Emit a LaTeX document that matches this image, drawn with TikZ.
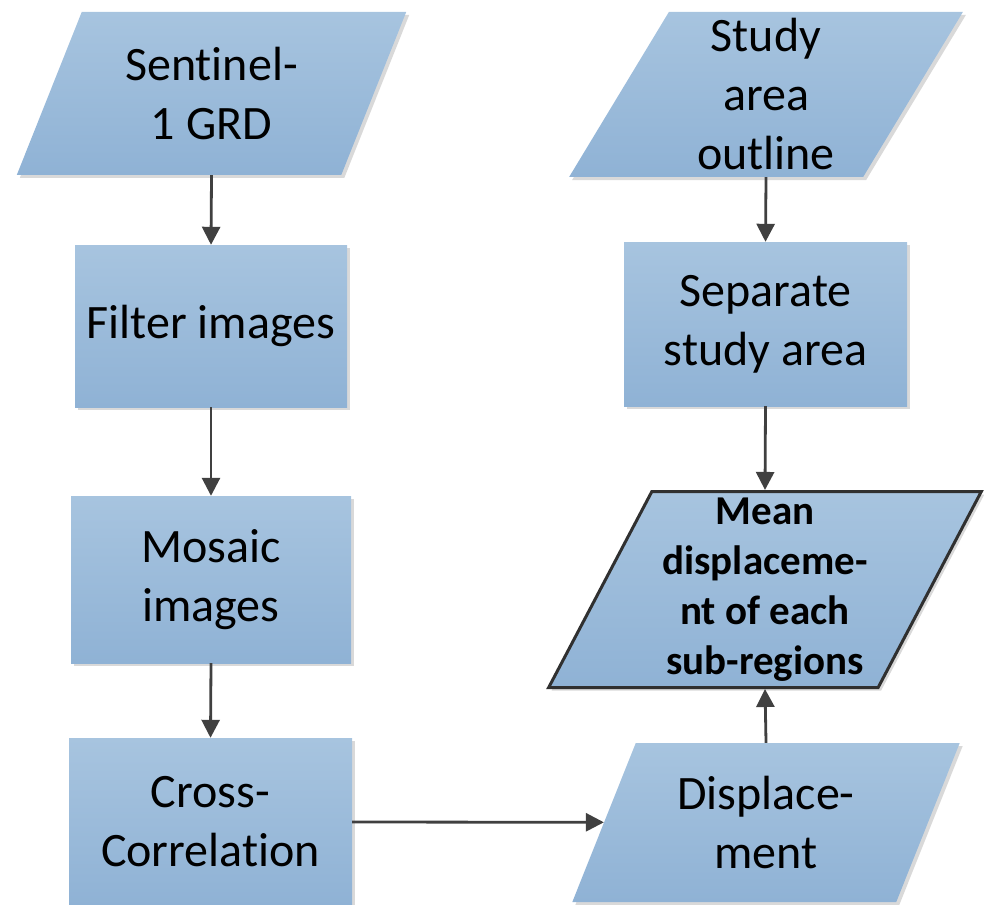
\documentclass[tikz,border=0pt]{standalone}
\usepackage{fontspec}
\setmainfont[Ligatures={NoCommon,NoContextual,NoRequired},Contextuals=NoAlternate]{Carlito}
\usetikzlibrary{shapes.geometric,arrows.meta,shadows}

\definecolor{filltop}{RGB}{167,196,223}
\definecolor{fillbot}{RGB}{143,178,213}
\definecolor{linegray}{RGB}{64,64,64}
\definecolor{edgedark}{RGB}{48,48,48}

\tikzset{
  flowshape/.style={
    top color=filltop, bottom color=fillbot, draw=none,
    drop shadow={shadow xshift=3pt, shadow yshift=-3pt, fill=black, opacity=0.15},
    align=center, inner sep=0pt,
    font=\fontsize{48}{59}\selectfont
  },
  procbox/.style={flowshape, rectangle},
  databox/.style={flowshape, trapezium, trapezium stretches=true,
    trapezium left angle=65, trapezium right angle=115},
  resultbox/.style={databox, trapezium left angle=63, trapezium right angle=117,
    draw=edgedark, line width=3pt,
    font=\fontsize{41}{50}\selectfont\bfseries},
  flow/.style={draw=linegray, line width=2.8pt,
    -{Triangle[length=18pt,width=18pt]}}
}

\begin{document}
\begin{tikzpicture}[x=1pt,y=-1pt]
  \useasboundingbox (0,0) rectangle (984,904);

  % left column: image processing chain
  \node[databox, minimum width=391pt, minimum height=163pt] (sent) at (211.5,93.5) {Sentinel-\\1 GRD};
  \node[procbox, minimum width=272pt, minimum height=162pt] (filt) at (211,326) {Filter images};
  \node[procbox, minimum width=280pt, minimum height=167pt] (mosa) at (211,579.5) {Mosaic\\images};
  \node[procbox, minimum width=283pt, minimum height=168pt] (corr) at (210.5,822) {Cross-\\Correlation};

  % right column: study area and results
  \node[databox, minimum width=395pt, minimum height=165pt] (stud) at (766,94.5) {Study\\area\\outline};
  \node[procbox, minimum width=283pt, minimum height=164pt] (sepa) at (765.5,324) {Separate\\study area};
  \node[resultbox, minimum width=433pt, minimum height=196pt] (mean) at (765,589.5) {Mean\\displaceme-\\nt of each\\sub-regions};
  \node[databox, minimum width=388pt, minimum height=159pt] (disp) at (766,822.5) {Displace-\\ment};

  % connectors
  \draw[flow] (sent.south) -- (filt.north);
  \draw[flow] (filt.south) -- (mosa.north);
  \draw[flow] (mosa.south) -- (corr.north);
  \draw[flow] (corr.east) -- (disp);
  \draw[flow] (stud.south) -- (sepa.north);
  \draw[flow] (sepa.south) -- (mean.north);
  \draw[flow] (disp.north) -- (mean.south);
\end{tikzpicture}
\end{document}
